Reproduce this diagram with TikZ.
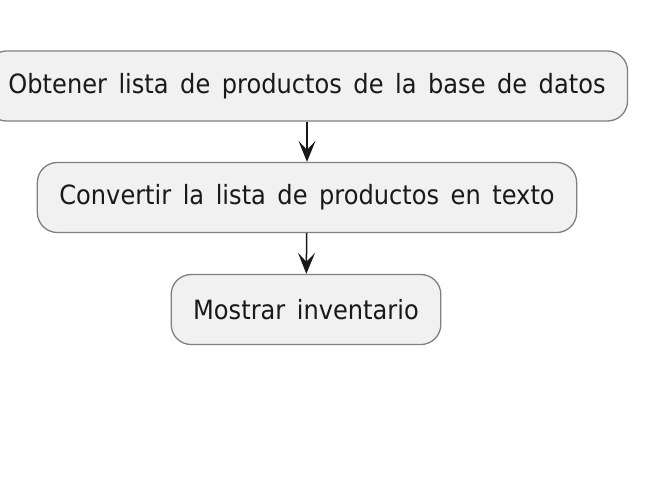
\documentclass[tikz,border=0pt]{standalone}
\usepackage{fontspec}
\setmainfont{DejaVu Sans}
\newfontfamily\actfont{DejaVu Sans}[FakeStretch=0.91,WordSpace=1.5]
\usetikzlibrary{arrows.meta}
\definecolor{actfill}{HTML}{F1F1F1}
\definecolor{actline}{HTML}{808080}
\definecolor{flow}{HTML}{181818}
\tikzset{
  act/.style={draw=actline,fill=actfill,line width=1.3pt,rounded corners=20pt,
    inner xsep=22pt,inner ysep=0pt,minimum height=70pt,
    font=\actfont\fontsize{26.5}{30}\selectfont,text=black!90},
  flowarrow/.style={draw=flow,line width=1.5pt,-{Stealth[length=21pt,width=17pt,inset=9pt]}}
}
\begin{document}
\begin{tikzpicture}[x=1pt,y=-1pt]
\useasboundingbox[fill=white] (0,0) rectangle (655,479);
\node[act] (lista) at (307,86) {Obtener lista de productos de la base de datos};
\node[act] (texto) at (307,197.5) {Convertir la lista de productos en texto};
\node[act] (inventario) at (306,309.5) {Mostrar inventario};
\draw[flowarrow] (lista) -- (texto);
\draw[flowarrow] (texto) -- (inventario);
\end{tikzpicture}
\end{document}
